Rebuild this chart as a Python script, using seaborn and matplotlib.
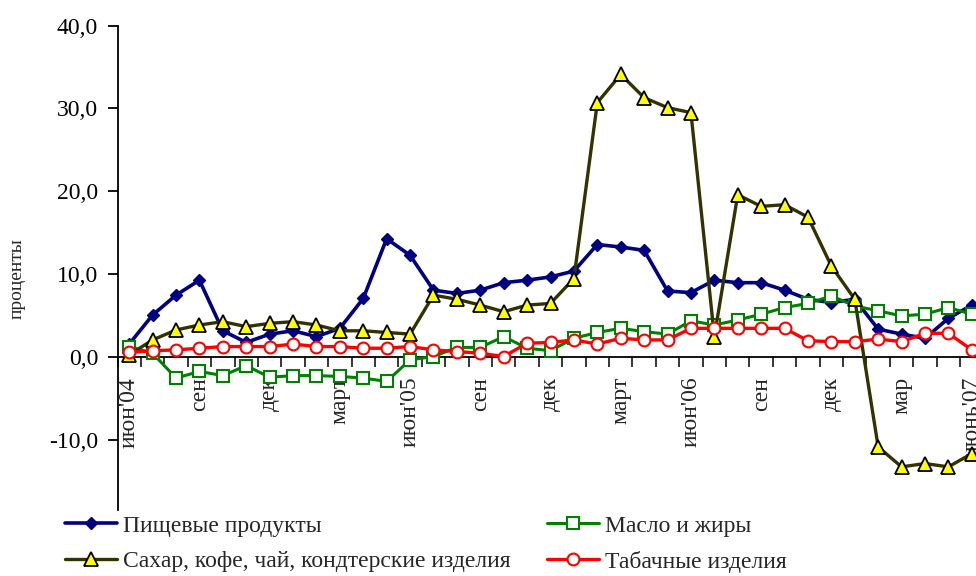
import matplotlib
matplotlib.use("Agg")
import matplotlib.pyplot as plt
import seaborn as sns
import numpy as np
from matplotlib.ticker import FixedLocator, FuncFormatter

# monthly series, June 2004 .. June 2007 (percent)
months = list(range(37))
tick_pos = list(range(0, 37, 3))
tick_labels = ["июн'04", "сен", "дек", "март", "июн'05", "сен", "дек",
               "март", "июн'06", "сен", "дек", "мар", "июнь'07"]

food = [1.6, 5.1, 7.5, 9.3, 3.2, 1.8, 2.8, 3.2, 2.5, 3.5, 7.1, 14.3, 12.3,
        8.1, 7.7, 8.1, 9.0, 9.3, 9.7, 10.4, 13.6, 13.3, 12.9, 8.0, 7.8, 9.3,
        9.0, 9.0, 8.1, 7.0, 6.6, 7.0, 3.4, 2.8, 2.3, 4.7, 6.3]
oils = [1.3, 0.5, -2.5, -1.7, -2.2, -1.0, -2.4, -2.2, -2.2, -2.3, -2.5, -2.9,
        -0.3, 0.1, 1.2, 1.2, 2.5, 1.1, 0.8, 2.3, 3.0, 3.5, 3.1, 2.8, 4.4, 3.9,
        4.5, 5.2, 6.0, 6.5, 7.4, 6.2, 5.6, 5.0, 5.2, 6.0, 5.2]
sugar = [0.3, 2.1, 3.3, 3.9, 4.3, 3.7, 4.1, 4.3, 3.9, 3.2, 3.2, 3.0, 2.8,
         7.5, 7.0, 6.3, 5.5, 6.3, 6.5, 9.5, 30.7, 34.1, 31.3, 30.1, 29.5, 2.5,
         19.6, 18.2, 18.4, 16.9, 11.0, 7.0, -10.8, -13.2, -12.8, -13.2, -11.6]
tobacco = [0.6, 0.8, 0.9, 1.1, 1.3, 1.3, 1.3, 1.6, 1.3, 1.3, 1.1, 1.1, 1.3,
           0.9, 0.7, 0.5, 0.1, 1.7, 1.8, 2.1, 1.6, 2.3, 2.1, 2.1, 3.5, 3.5,
           3.5, 3.5, 3.5, 2.0, 1.9, 1.9, 2.2, 1.9, 2.9, 2.9, 0.9]

sns.set_style("white")
plt.rcParams["font.family"] = ["Liberation Serif", "DejaVu Serif"]

fig = plt.figure(figsize=(9.76, 5.76), dpi=100)
ax = fig.add_axes([117.5 / 976, 66 / 576, 866 / 976, 484.5 / 576])

sns.lineplot(x=months, y=food, ax=ax, color="#000080", linewidth=2.6,
             marker="D", markersize=6.5, markerfacecolor="#000080",
             markeredgecolor="#000080", markeredgewidth=1,
             label="Пищевые продукты", zorder=3)
sns.lineplot(x=months, y=oils, ax=ax, color="#008000", linewidth=2.2,
             marker="s", markersize=8.5, markerfacecolor="white",
             markeredgecolor="#008000", markeredgewidth=1.5,
             label="Масло и жиры", zorder=4)
sns.lineplot(x=months, y=sugar, ax=ax, color="#333300", linewidth=2.4,
             marker="^", markersize=9.5, markerfacecolor="#FFFF00",
             markeredgecolor="black", markeredgewidth=1.3,
             label="Сахар, кофе, чай, кондтерские изделия", zorder=5)
sns.lineplot(x=months, y=tobacco, ax=ax, color="#FF0000", linewidth=2.4,
             marker="o", markersize=8.5, markerfacecolor="white",
             markeredgecolor="#FF0000", markeredgewidth=1.5,
             label="Табачные изделия", zorder=6)

ax.set_xlim(-0.5, 36.5)
ax.set_ylim(-18.4, 40)

for side in ["top", "right"]:
    ax.spines[side].set_visible(False)
ax.spines["left"].set_color("black")
ax.spines["left"].set_linewidth(1.3)
ax.spines["bottom"].set_position(("data", 0))
ax.spines["bottom"].set_color("black")
ax.spines["bottom"].set_linewidth(1.3)

ax.yaxis.set_major_locator(FixedLocator([-10, 0, 10, 20, 30, 40]))
ax.yaxis.set_major_formatter(FuncFormatter(lambda v, p: f"{v:.1f}".replace(".", ",")))
ax.tick_params(axis="y", which="major", direction="out", length=7, width=1.3,
               pad=7, labelsize=17, left=True, colors="black")

ax.xaxis.set_major_locator(FixedLocator(tick_pos))
ax.set_xticklabels(tick_labels, rotation=90)
ax.xaxis.set_minor_locator(FixedLocator(np.arange(-0.5, 37, 1)))
ax.tick_params(axis="x", which="major", length=0, pad=14, labelsize=17,
               bottom=True)
ax.tick_params(axis="x", which="minor", direction="out", length=7, width=1.3,
               bottom=True)
ax.set_xlabel("")
ax.set_ylabel("")

fig.text(17 / 976, 1 - 279 / 576, "проценты", rotation=90, ha="center",
         va="center", fontsize=14)

handles, labels = ax.get_legend_handles_labels()
ax.get_legend().remove()
order = [0, 2, 1, 3]
fig.legend([handles[i] for i in order], [labels[i] for i in order],
           ncol=2, loc="upper left", bbox_to_anchor=(65 / 976, 1 - 515 / 576),
           frameon=False, fontsize=17, handlelength=2.2, handletextpad=0.25,
           columnspacing=1.55, labelspacing=0.6, borderpad=0, borderaxespad=0)

fig.savefig("out.png", dpi=100, facecolor="white")
